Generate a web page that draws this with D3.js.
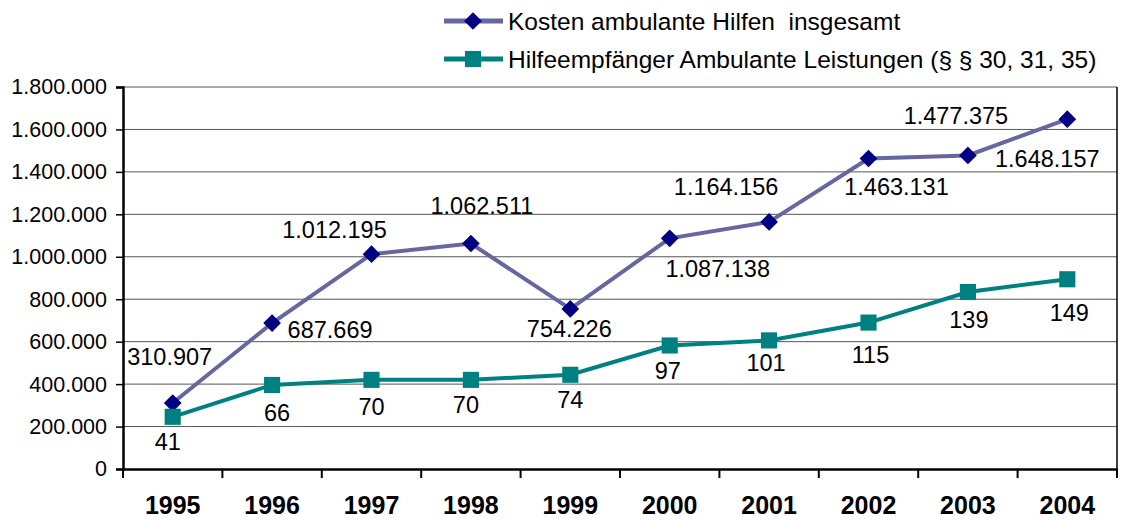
<!DOCTYPE html>
<html>
<head>
<meta charset="utf-8">
<script src="https://cdn.jsdelivr.net/npm/d3@7"></script>
<style>
  body { margin: 0; background: #fff; }
  svg { display: block; font-family: "Liberation Sans", Arial, sans-serif; }
</style>
</head>
<body>
<svg id="chart" width="1121" height="520"></svg>
<script>
var years = ['1995', '1996', '1997', '1998', '1999', '2000', '2001', '2002', '2003', '2004'];
var kosten = [310907, 687669, 1012195, 1062511, 754226, 1087138, 1164156, 1463131, 1477375, 1648157];
var empfaenger = [41, 66, 70, 70, 74, 97, 101, 115, 139, 149];
var yTicks = [0, 200000, 400000, 600000, 800000, 1000000, 1200000, 1400000, 1600000, 1800000];
var seriesNames = ['Kosten ambulante Hilfen  insgesamt', 'Hilfeempfänger Ambulante Leistungen (§ § 30, 31, 35)'];

// label placement (dx, dy from the marker), picked by hand like in the original
var kostenLabelPos = [[-3, -38], [58, 15], [-37, -16], [11, -30], [-1, 28], [48, 39], [-43, -27], [28, 37], [-12, -31], [-20, 48]];
var empfLabelPos = [[-5, 33], [5, 36], [0, 35], [-5, 33], [0, 33], [-2, 34], [-3, 31], [2, 40], [1, 36], [2, 42]];

var width = 1121;
var height = 520;
var marginLeft = 123;
var marginTop = 87;
var plotW = 994;
var plotH = 382;

var de = d3.formatLocale({decimal: ',', thousands: '.', grouping: [3], currency: ['', '€']});
var fmt = de.format(',d');

var svg = d3.select('#chart');

var x = d3.scaleBand()
    .domain(years)
    .range([marginLeft, marginLeft + plotW])
    .padding(0);

var y = d3.scaleLinear()
    .domain([0, 1800000])
    .range([marginTop + plotH, marginTop]);

// second (hidden) axis for the number of recipients
var y2 = d3.scaleLinear()
    .domain([0, 300])
    .range([marginTop + plotH, marginTop]);

var cx = function(d, i) { return x(years[i]) + x.bandwidth() / 2; };

// gridlines
svg.append('g')
    .selectAll('line')
    .data(yTicks.slice(1))
    .enter()
    .append('line')
    .attr('x1', marginLeft)
    .attr('x2', marginLeft + plotW)
    .attr('y1', function(d) { return y(d); })
    .attr('y2', function(d) { return y(d); })
    .attr('stroke', '#555')
    .attr('stroke-width', 1);

// right border
svg.append('line')
    .attr('x1', marginLeft + plotW)
    .attr('x2', marginLeft + plotW)
    .attr('y1', marginTop)
    .attr('y2', marginTop + plotH)
    .attr('stroke', '#000')
    .attr('stroke-width', 1.5);

// y axis
var yAxis = svg.append('g')
    .attr('transform', 'translate(' + marginLeft + ',0)')
    .call(d3.axisLeft(y).tickValues(yTicks).tickFormat(fmt).tickSize(7).tickPadding(9));
yAxis.select('.domain').attr('stroke', '#000').attr('stroke-width', 2.5);
yAxis.selectAll('.tick line').attr('stroke', '#000').attr('stroke-width', 1.5);
yAxis.selectAll('.tick text')
    .attr('font-size', 21.5)
    .attr('fill', '#000')
    .attr('font-family', '"Liberation Sans", Arial, sans-serif');

// x axis
var xAxis = svg.append('g')
    .attr('transform', 'translate(0,' + (marginTop + plotH) + ')')
    .call(d3.axisBottom(x).tickSize(0).tickPadding(27));
xAxis.select('.domain').attr('stroke', '#000').attr('stroke-width', 2.5);
xAxis.selectAll('.tick text')
    .attr('font-size', 25)
    .attr('font-weight', 'bold')
    .attr('fill', '#000')
    .attr('font-family', '"Liberation Sans", Arial, sans-serif');

// x ticks between the categories
svg.append('g')
    .selectAll('line')
    .data(years.concat(['end']))
    .enter()
    .append('line')
    .attr('x1', function(d, i) { return marginLeft + i * x.bandwidth(); })
    .attr('x2', function(d, i) { return marginLeft + i * x.bandwidth(); })
    .attr('y1', marginTop + plotH)
    .attr('y2', marginTop + plotH + 9)
    .attr('stroke', '#000')
    .attr('stroke-width', 2);

// lines
var lineK = d3.line()
    .x(cx)
    .y(function(d) { return y(d); });
var lineE = d3.line()
    .x(cx)
    .y(function(d) { return y2(d); });

svg.append('path')
    .datum(kosten)
    .attr('d', lineK)
    .attr('fill', 'none')
    .attr('stroke', '#6666a0')
    .attr('stroke-width', 4);

svg.append('path')
    .datum(empfaenger)
    .attr('d', lineE)
    .attr('fill', 'none')
    .attr('stroke', '#008080')
    .attr('stroke-width', 4);

// markers
var diamond = d3.symbol().type(d3.symbolDiamond2).size(200);
var square = d3.symbol().type(d3.symbolSquare).size(260);

svg.append('g')
    .selectAll('path')
    .data(kosten)
    .enter()
    .append('path')
    .attr('d', diamond)
    .attr('transform', function(d, i) { return 'translate(' + cx(d, i) + ',' + y(d) + ')'; })
    .attr('fill', '#000080');

svg.append('g')
    .selectAll('path')
    .data(empfaenger)
    .enter()
    .append('path')
    .attr('d', square)
    .attr('transform', function(d, i) { return 'translate(' + cx(d, i) + ',' + y2(d) + ')'; })
    .attr('fill', '#008080');

// data labels
svg.append('g')
    .selectAll('text')
    .data(kosten)
    .enter()
    .append('text')
    .attr('x', function(d, i) { return cx(d, i) + kostenLabelPos[i][0]; })
    .attr('y', function(d, i) { return y(d) + kostenLabelPos[i][1]; })
    .attr('text-anchor', 'middle')
    .attr('font-size', 23.5)
    .attr('fill', '#000')
    .text(function(d) { return fmt(d); });

svg.append('g')
    .selectAll('text')
    .data(empfaenger)
    .enter()
    .append('text')
    .attr('x', function(d, i) { return cx(d, i) + empfLabelPos[i][0]; })
    .attr('y', function(d, i) { return y2(d) + empfLabelPos[i][1]; })
    .attr('text-anchor', 'middle')
    .attr('font-size', 23.5)
    .attr('fill', '#000')
    .text(function(d) { return d; });

// legend
var legend = svg.append('g');
var legendRows = [
    {name: seriesNames[0], stroke: '#6666a0', fill: '#000080', sym: diamond, y: 21},
    {name: seriesNames[1], stroke: '#008080', fill: '#008080', sym: square, y: 59}
];

legendRows.forEach(function(r) {
    legend.append('line')
        .attr('x1', 444)
        .attr('x2', 503)
        .attr('y1', r.y)
        .attr('y2', r.y)
        .attr('stroke', r.stroke)
        .attr('stroke-width', 5);
    legend.append('path')
        .attr('d', r.sym)
        .attr('transform', 'translate(473,' + r.y + ')')
        .attr('fill', r.fill);
    legend.append('text')
        .attr('x', 508)
        .attr('y', r.y + 9)
        .attr('font-size', 24.5)
        .attr('fill', '#000')
        .style('white-space', 'pre')
        .text(r.name);
});
</script>
</body>
</html>
